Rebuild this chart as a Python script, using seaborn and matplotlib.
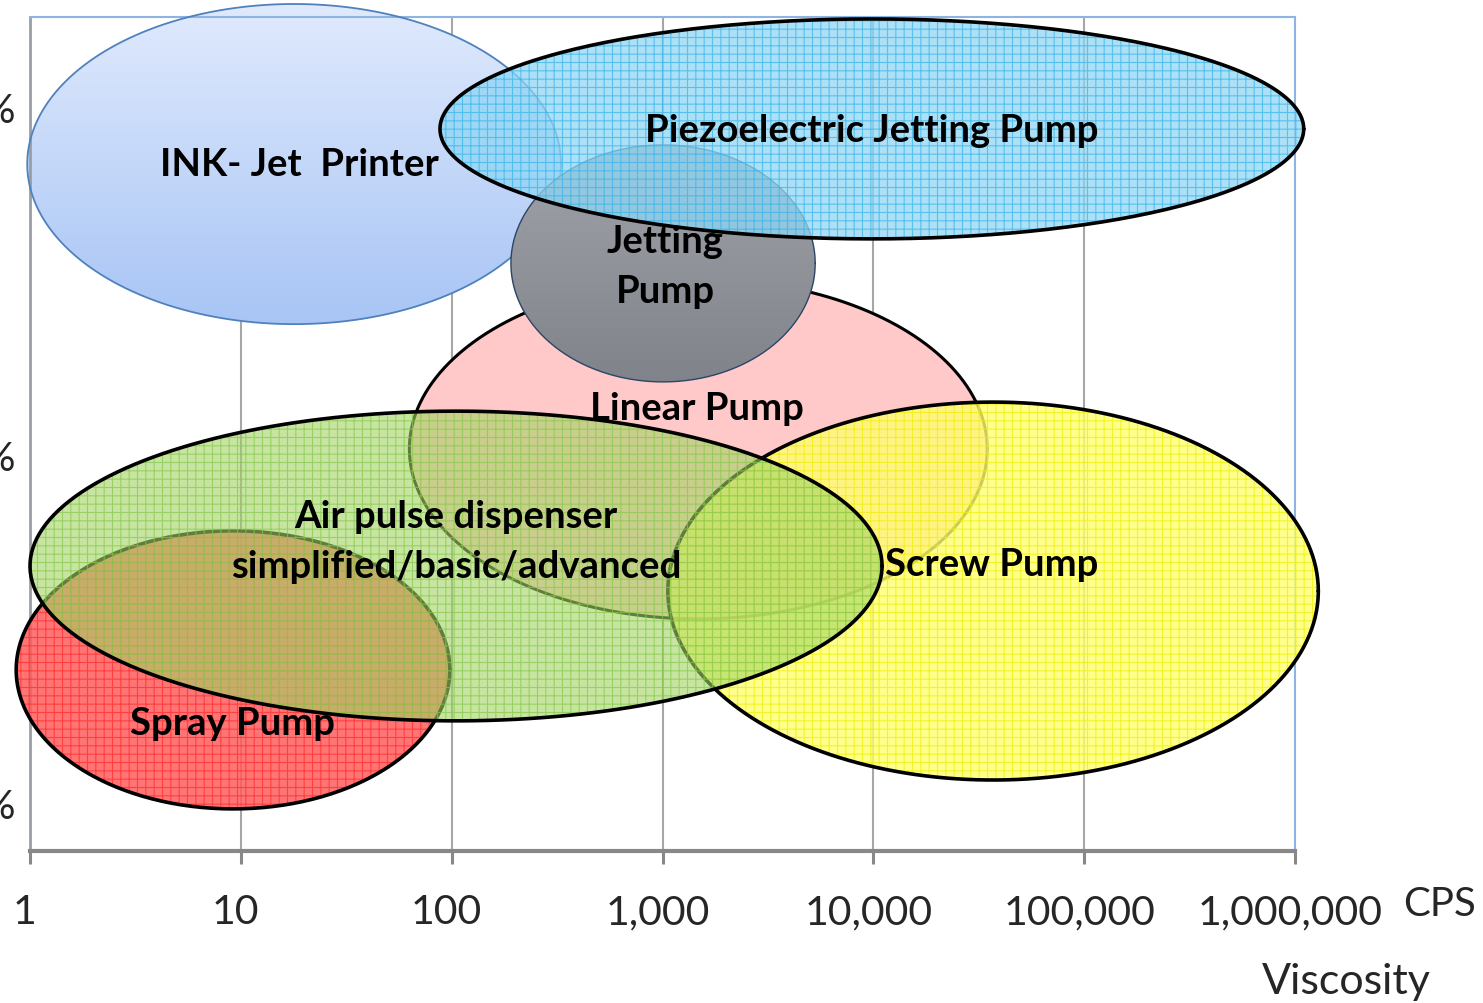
import numpy as np
import matplotlib
matplotlib.use("Agg")
import matplotlib.pyplot as plt
import matplotlib.transforms as mtransforms
from matplotlib.colors import LinearSegmentedColormap
import seaborn as sns

# Dispensing technologies: viscosity range (cps) vs. level band
names = ["INK- Jet  Printer", "Linear Pump", "Jetting\nPump", "Piezoelectric Jetting Pump",
         "Spray Pump", "Screw Pump", "Air pulse dispenser\nsimplified/basic/advanced"]
visc_lo = [0.97, 63, 191, 88, 0.86, 1060, 1.0]
visc_hi = [330, 34700, 5300, 1100000, 98, 1290000, 11000]
level_lo = [2.376, 1.529, 2.210, 2.621, 0.983, 1.066, 1.236]
level_hi = [3.296, 2.506, 2.891, 3.253, 1.782, 2.152, 2.126]
label_x = [18.9, 1460, 1030, 9870, 9.1, 36600, 105]
label_y = [2.836, 2.135, 2.543, 2.934, 1.230, 1.687, 1.753]

x_ticks = [1, 10, 100, 1000, 10000, 100000, 1000000]
x_labels = ["1", "10", "100", "1,000", "10,000", "100,000", "1,000,000"]
y_ticks = [1, 2, 3]
y_labels = ["1%", "2%", "3%"]

# look of each shape
face = ["grad_blue", "#ffc9c9", "grad_gray", "#8fd6f5", "#ff5c5c", "#ffff70", "#a2d463"]
alpha = [1.0, 1.0, 1.0, 0.75, 0.85, 0.8, 0.6]
hatch_col = [None, None, None, "#34b3ea", "#ff2a2a", "#eeee00", "#86c84a"]
edge = ["#4f81bd", "black", "#2b4566", "black", "black", "black", "black"]
edge_w = [1.3, 2.2, 1.0, 2.6, 2.6, 2.6, 2.6]

sns.set_theme(style="white")
plt.rcParams["font.family"] = ["Lato", "DejaVu Sans"]
plt.rcParams["hatch.linewidth"] = 0.8

fig = plt.figure(figsize=(14.83, 10.04), dpi=100)
ax = fig.add_axes([30 / 1483, 1 - 852 / 1004, 1265 / 1483, 834 / 1004])
ax.set_xscale("log")

gradients = {
    "grad_blue": LinearSegmentedColormap.from_list("b", ["#a8c5f5", "#e0eafd"]),
    "grad_gray": LinearSegmentedColormap.from_list("g", ["#80838a", "#a0a4aa"]),
}

t = np.linspace(0, 2 * np.pi, 400)
for i in range(len(names)):
    lx0, lx1 = np.log10(visc_lo[i]), np.log10(visc_hi[i])
    cx, a = (lx0 + lx1) / 2, (lx1 - lx0) / 2
    cy, b = (level_lo[i] + level_hi[i]) / 2, (level_hi[i] - level_lo[i]) / 2
    xs = 10 ** (cx + a * np.cos(t))
    ys = cy + b * np.sin(t)
    z = 2 + i * 3
    if face[i] in gradients:
        poly = ax.fill(xs, ys, facecolor="none", edgecolor="none", clip_on=False, zorder=z)[0]
        grad = np.linspace(0, 1, 256).reshape(-1, 1)
        im = ax.imshow(grad, cmap=gradients[face[i]], origin="lower", aspect="auto",
                       extent=[visc_lo[i], visc_hi[i], level_lo[i], level_hi[i]], zorder=z)
        im.set_clip_box(fig.bbox)
        im.set_clip_path(poly)
    else:
        ax.fill(xs, ys, facecolor=face[i], alpha=alpha[i], edgecolor="none",
                clip_on=False, zorder=z)
    if hatch_col[i]:
        ax.fill(xs, ys, facecolor="none", edgecolor=hatch_col[i], hatch="++", lw=0,
                alpha=0.7, clip_on=False, zorder=z + 0.5)
    sns.lineplot(x=xs, y=ys, sort=False, estimator=None, color=edge[i], lw=edge_w[i],
                 ax=ax, clip_on=False, zorder=z + 1)

for i in range(len(names)):
    ax.text(label_x[i], label_y[i], names[i], ha="center", va="center", fontsize=27.5,
            fontweight="bold", color="black", zorder=50, linespacing=1.6)

ax.set_xlim(1, 1000000)
ax.set_ylim(0.862, 3.2586)
ax.set_xticks(x_ticks)
ax.set_xticklabels(x_labels, fontsize=29.5)
ax.minorticks_off()
ax.set_yticks(y_ticks)
ax.set_yticklabels(y_labels, fontsize=29.5)
ax.tick_params(axis="x", direction="out", length=9.5, width=2.2, color="#888888",
               pad=21, bottom=True)
ax.tick_params(axis="y", length=0, pad=10)
shift = mtransforms.ScaledTranslation(-5 / 100, 0, fig.dpi_scale_trans)
for lab in ax.get_xticklabels():
    lab.set_transform(lab.get_transform() + shift)

ax.grid(False)
for xv in x_ticks[1:-1]:
    ax.axvline(xv, color="#a6a6a6", lw=1.5, zorder=1)

ax.spines["bottom"].set_color("#888888")
ax.spines["bottom"].set_linewidth(3)
ax.spines["left"].set_color("#9a9ea6")
ax.spines["left"].set_linewidth(2)
for s in ["top", "right"]:
    ax.spines[s].set_color("#8eb4e3")
    ax.spines[s].set_linewidth(1.5)
    ax.spines[s].set_visible(True)

fig.text(1403 / 1483, 1 - 905 / 1004, "CPS", fontsize=29, ha="left", va="center")
fig.text(1346 / 1483, 1 - 982 / 1004, "Viscosity", fontsize=31, ha="center", va="center")

fig.savefig("out.png", dpi=100)
